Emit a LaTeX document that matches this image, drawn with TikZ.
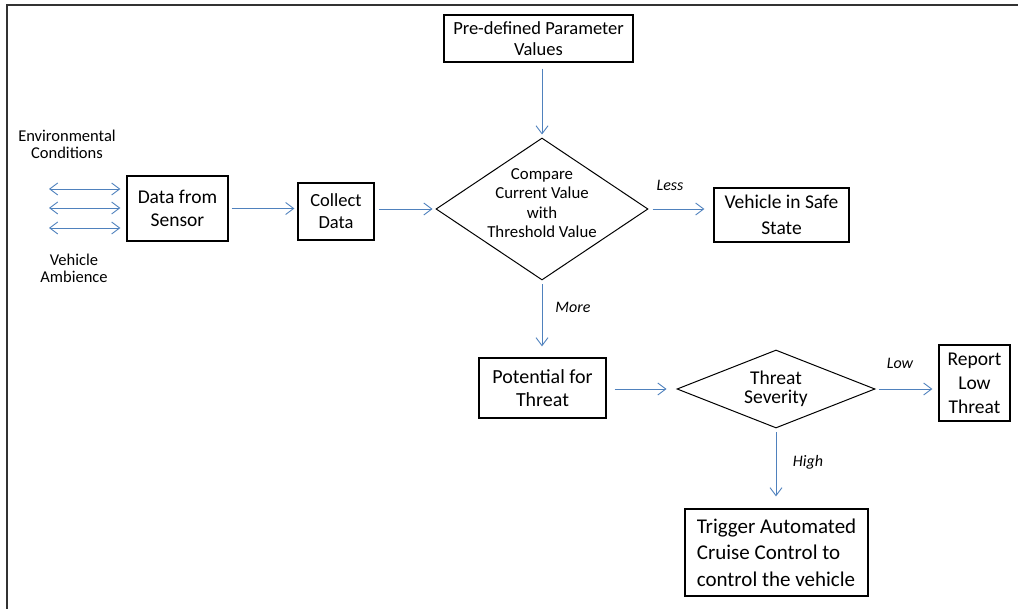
\documentclass[tikz,border=0pt]{standalone}
\usepackage{fontspec}
\setmainfont{Carlito}
\usetikzlibrary{arrows.meta,shapes.geometric}
\definecolor{arr}{RGB}{79,129,189}
\definecolor{frame}{RGB}{50,50,50}
\begin{document}
\begin{tikzpicture}[x=1pt,y=-1pt,
  box/.style={draw=black,line width=1.2pt,inner sep=0pt,align=center,text=black,
    font=\fontsize{19.5}{23}\selectfont},
  dia/.style={draw=black,diamond,line width=1pt,inner sep=0pt},
  diatext/.style={align=center,text=black,inner sep=0pt},
  tip/.style={},
  flow/.style={draw=arr,line width=0.9pt,-{Straight Barb[length=8pt,width=12pt]}},
  dual/.style={draw=arr,line width=0.9pt,{Straight Barb[length=8pt,width=12pt]}-{Straight Barb[length=8pt,width=12pt]}},
  lbl/.style={text=black,inner sep=0pt,font=\fontsize{16}{19}\selectfont\itshape},
  side/.style={text=black,inner sep=0pt,align=center,font=\fontsize{16.5}{17}\selectfont}
]
\useasboundingbox (0,0) rectangle (1018,609);
\draw[frame,line width=2pt] (7,609) -- (7,5) -- (1018,5);

% boxes
\node[box,minimum width=189pt,minimum height=47pt,font=\fontsize{18.5}{21}\selectfont] (pre) at (538.5,38.5) {Pre-defined Parameter\\Values};
\node[box,minimum width=101pt,minimum height=65pt] (sensor) at (177.5,208.5) {Data from\\Sensor};
\node[box,minimum width=76pt,minimum height=57pt,font=\fontsize{18.5}{22}\selectfont] (collect) at (336,211.5) {Collect\\Data};
\node[dia,minimum width=212pt,minimum height=142pt] (cmp) at (542,209) {};
\node[diatext,font=\fontsize{16.8}{19.3}\selectfont] (cmptext) at (542,203) {Compare\\Current Value\\with\\Threshold Value};
\node[box,minimum width=135pt,minimum height=54pt,font=\fontsize{19.5}{26}\selectfont] (safe) at (781.5,215) {Vehicle in Safe\\State};
\node[box,minimum width=127pt,minimum height=60pt,font=\fontsize{20}{23}\selectfont] (pot) at (542.5,388) {Potential for\\Threat};
\node[dia,minimum width=198pt,minimum height=78pt] (sev) at (776,389) {};
\node[diatext,font=\fontsize{19.5}{19.5}\selectfont] (sevtext) at (776,389) {Threat\\Severity};
\node[box,minimum width=71pt,minimum height=76pt,font=\fontsize{19.5}{24}\selectfont] (report) at (974.5,383) {Report\\Low\\Threat};
\node[box,minimum width=183pt,minimum height=87pt,align=left,font=\fontsize{21}{26.5}\selectfont] (trig) at (776.5,552.5) {Trigger Automated\\Cruise Control to\\control the vehicle};

% side texts
\node[side] (env) at (67,144.5) {Environmental\\Conditions};
\node[side] (amb) at (74,268.5) {Vehicle\\Ambience};

% edge labels
\node[lbl] (less) at (670,185) {Less};
\node[lbl] (more) at (573,307) {More};
\node[lbl] (low) at (900,363) {Low};
\node[lbl] (high) at (808,462) {High};

% double arrows
\coordinate (e1) at (49,189);
\coordinate (e2) at (49,208);
\coordinate (e3) at (49,228);
\draw[dual,shorten >=6pt] (e1) -- (e1 -| sensor.west);
\draw[dual,shorten >=6pt] (e2) -- (e2 -| sensor.west);
\draw[dual,shorten >=6pt] (e3) -- (e3 -| sensor.west);

% connectors
\draw[flow,shorten <=6pt,shorten >=3pt] (pre.south -| cmp.north) -- (cmp.north);
\draw[flow,shorten <=3pt,shorten >=3pt] (sensor.east) -- (sensor.east -| collect.west);
\draw[flow,shorten <=4pt,shorten >=3pt] (cmp.west -| collect.east) -- (cmp.west);
\draw[flow,shorten <=4pt,shorten >=9pt] (cmp.east) -- (cmp.east -| safe.west);
\draw[flow,shorten <=4pt,shorten >=11pt] (cmp.south) -- (cmp.south |- pot.north);
\draw[flow,shorten <=8pt,shorten >=10pt] (sev.west -| pot.east) -- (sev.west);
\draw[flow,shorten <=3pt,shorten >=6pt] (sev.east) -- (sev.east -| report.west);
\draw[flow,shorten <=4pt,shorten >=12pt] (sev.south) -- (sev.south |- trig.north);
\end{tikzpicture}
\end{document}
